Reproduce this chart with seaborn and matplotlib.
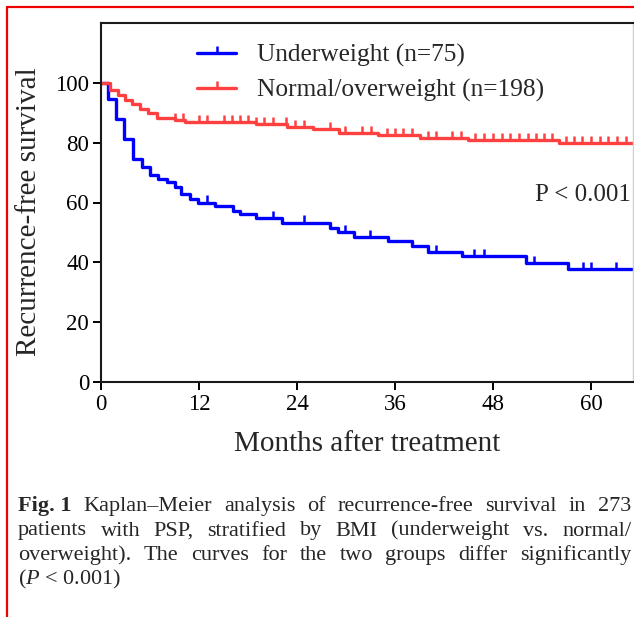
import numpy as np
import pandas as pd
import matplotlib
matplotlib.use("Agg")
import matplotlib.pyplot as plt
from matplotlib.lines import Line2D
import seaborn as sns

# ---------------- data ----------------
groups = ["Underweight (n=75)", "Normal/overweight (n=198)"]
colors = ["#0000FF", "#FF4040"]

blue_times = [0, 0.9, 1.8, 2.85, 3.95, 5.05, 6.0, 7.0, 8.1, 9.0, 9.85, 10.9, 11.9,
              13.9, 16.2, 17.0, 19.0, 22.1, 28.0, 29.0, 31.0, 35.1, 38.1, 40.0,
              44.2, 52.0, 57.1, 65.0]
blue_surv = [100, 94.7, 88.0, 81.3, 74.7, 72.0, 69.3, 68.0, 66.7, 65.3, 62.7, 61.3,
             60.0, 58.7, 57.3, 56.0, 54.7, 53.3, 51.6, 50.1, 48.4, 47.1, 45.3, 43.5,
             42.0, 39.9, 37.8, 37.8]
blue_censor = [13.0, 21.0, 24.9, 29.9, 32.9, 41.0, 45.7, 46.9, 53.0, 59.0, 60.0, 63.0]

red_times = [0, 1.1, 2.1, 2.9, 3.8, 4.8, 5.8, 6.8, 9.0, 10.3, 19.0, 22.8, 25.9, 29.1,
             33.9, 39.0, 44.9, 56.0, 65.0]
red_surv = [100, 97.5, 96.0, 94.4, 92.9, 91.4, 89.9, 88.4, 87.6, 86.9, 86.1, 85.3,
            84.5, 83.3, 82.4, 81.6, 80.8, 79.9, 79.9]
red_censor = [9.0, 10.0, 12.0, 13.0, 15.0, 16.0, 17.0, 18.0, 19.0, 20.0, 21.0, 22.6,
              23.8, 24.9, 28.0, 29.9, 31.9, 33.0, 35.0, 36.0, 37.0, 38.1, 40.0, 41.0,
              43.0, 44.0, 45.8, 46.9, 48.0, 49.1, 50.1, 51.2, 52.2, 53.2, 54.2, 55.2,
              56.9, 57.9, 58.9, 60.0, 61.1, 62.1, 63.2, 64.3]

x_ticks = [0, 12, 24, 36, 48, 60]
y_ticks = [0, 20, 40, 60, 80, 100]

xlabel = "Months after treatment"
ylabel = "Recurrence-free survival"
p_text = "P < 0.001"

# ---------------- tables ----------------
curves = pd.concat([
    pd.DataFrame({"group": groups[0], "time": blue_times, "surv": blue_surv}),
    pd.DataFrame({"group": groups[1], "time": red_times, "surv": red_surv}),
], ignore_index=True)


def surv_at(times, surv, t):
    idx = np.searchsorted(np.asarray(times), np.asarray(t), side="right") - 1
    return np.asarray(surv)[idx]


censors = pd.concat([
    pd.DataFrame({"group": groups[0], "time": blue_censor,
                  "surv": surv_at(blue_times, blue_surv, blue_censor)}),
    pd.DataFrame({"group": groups[1], "time": red_censor,
                  "surv": surv_at(red_times, red_surv, red_censor)}),
], ignore_index=True)

# ---------------- style ----------------
sns.set_theme(style="ticks")
plt.rcParams["font.family"] = ["Liberation Serif", "DejaVu Serif"]
plt.rcParams["mathtext.fontset"] = "custom"
plt.rcParams["mathtext.rm"] = "Liberation Serif"
plt.rcParams["mathtext.it"] = "Liberation Serif:italic"

W, H = 634, 617
fig = plt.figure(figsize=(W / 100, H / 100), dpi=100)
fig.patch.set_facecolor("white")

ax_l, ax_r, ax_b, ax_t = 101, 633, 382, 23
ax = fig.add_axes([ax_l / W, 1 - ax_b / H, (ax_r - ax_l) / W, (ax_b - ax_t) / H])
ax.set_facecolor("white")

palette = dict(zip(groups, colors))
sns.lineplot(data=curves, x="time", y="surv", hue="group", palette=palette,
             drawstyle="steps-post", estimator=None, sort=False, linewidth=2.4,
             legend=False, ax=ax)
sns.scatterplot(data=censors, x="time", y="surv", hue="group", palette=palette,
                marker=2, s=26, linewidth=1.8, legend=False, ax=ax, zorder=3)

ax.set_xlim(0, 65.1)
ax.set_ylim(0, 120)
ax.set_xticks(x_ticks)
ax.set_yticks(y_ticks)
ax.tick_params(axis="both", direction="out", length=6, width=1.4, colors="black",
               labelsize=16.5, pad=2.5)
for side in ["left", "bottom", "top"]:
    ax.spines[side].set_color("#1a1a1a")
    ax.spines[side].set_linewidth(1.5)
ax.spines["right"].set_color("#cfcfcf")
ax.spines["right"].set_linewidth(1.0)

ax.set_xlabel(xlabel, fontsize=21, va="baseline")
ax.xaxis.set_label_coords((367.5 - ax_l) / (ax_r - ax_l), -(451 - ax_b) / (ax_b - ax_t))
ax.set_ylabel(ylabel, fontsize=21, va="baseline")
ax.yaxis.set_label_coords(-(ax_l - 36) / (ax_r - ax_l), (ax_b - 212) / (ax_b - ax_t))

ax.text((631 - ax_l) / (ax_r - ax_l), (ax_b - 201) / (ax_b - ax_t), p_text,
        transform=ax.transAxes, ha="right", va="baseline", fontsize=18)

handles = [Line2D([], [], color=c, lw=2.4, marker=2, markersize=5, markeredgewidth=1.8)
           for c in colors]
leg = ax.legend(handles, groups, loc="upper left", frameon=False, fontsize=18.3,
                bbox_to_anchor=((197 - ax_l) / (ax_r - ax_l), (ax_b - 44) / (ax_b - ax_t)),
                borderpad=0, borderaxespad=0, handlelength=1.55, handletextpad=0.8,
                labelspacing=0.47, numpoints=1)

# ---------------- red border of the figure panel ----------------
fig.add_artist(Line2D([7 / W, 7 / W], [0, 1 - 7 / H], transform=fig.transFigure,
                      color="#ee0000", lw=1.6))
fig.add_artist(Line2D([7 / W, 1], [1 - 7 / H, 1 - 7 / H], transform=fig.transFigure,
                      color="#ee0000", lw=1.6))

# ---------------- justified caption ----------------
cap_size = 16
caption_lines = [
    [("Fig. 1", "bold"), ("Kaplan–Meier", "normal"), ("analysis", "normal"),
     ("of", "normal"), ("recurrence-free", "normal"), ("survival", "normal"),
     ("in", "normal"), ("273", "normal")],
    [(w, "normal") for w in "patients with PSP, stratified by BMI (underweight vs. normal/".split()],
    [(w, "normal") for w in "overweight). The curves for the two groups differ significantly".split()],
]
baselines = [511, 535.5, 560]
x0, x1 = 18, 631
renderer = fig.canvas.get_renderer()
for words, yb in zip(caption_lines, baselines):
    texts = [fig.text(0, 1 - yb / H, w, fontsize=cap_size, fontweight=wt,
                      ha="left", va="baseline") for w, wt in words]
    widths = [t.get_window_extent(renderer).width for t in texts]
    gap = (x1 - x0 - sum(widths)) / (len(texts) - 1)
    x = x0
    for t, wdt in zip(texts, widths):
        t.set_x(x / W)
        x += wdt + gap
fig.text(x0 / W, 1 - 584.5 / H, r"($P$ < 0.001)", fontsize=cap_size, ha="left", va="baseline")

fig.savefig("out.png", dpi=100, facecolor="white")
